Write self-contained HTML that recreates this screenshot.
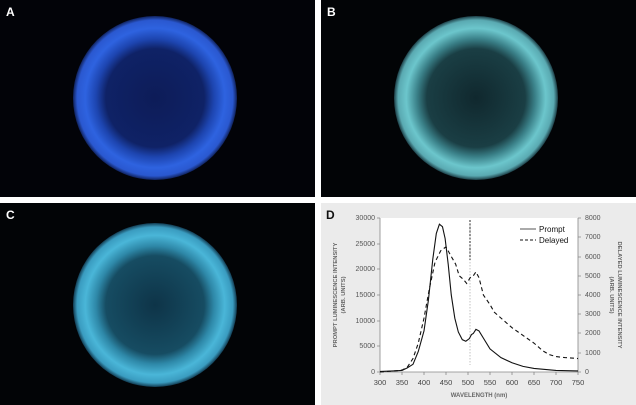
<!DOCTYPE html><html><head><style>body{margin:0;background:#fff}svg{display:block}text{font-family:"Liberation Sans",sans-serif}</style></head><body>
<svg width="636" height="405" viewBox="0 0 636 405">
<defs>
<radialGradient id="gA"><stop offset="0" stop-color="#0d1c58"/><stop offset="0.6" stop-color="#0f2266"/><stop offset="0.72" stop-color="#1d45b0"/><stop offset="0.85" stop-color="#2e63e0"/><stop offset="0.95" stop-color="#2a58d0"/><stop offset="1" stop-color="#10225c"/></radialGradient>
<radialGradient id="gB"><stop offset="0" stop-color="#10282e"/><stop offset="0.6" stop-color="#1a3e44"/><stop offset="0.72" stop-color="#3a8088"/><stop offset="0.85" stop-color="#6cc6cc"/><stop offset="0.95" stop-color="#5aaab2"/><stop offset="1" stop-color="#1c3e46"/></radialGradient>
<radialGradient id="gC"><stop offset="0" stop-color="#0e3448"/><stop offset="0.6" stop-color="#164c62"/><stop offset="0.72" stop-color="#2e88a8"/><stop offset="0.85" stop-color="#4ab6d8"/><stop offset="0.95" stop-color="#3a9cc0"/><stop offset="1" stop-color="#123c52"/></radialGradient>
</defs>
<rect x="0" y="0" width="315" height="197" fill="#020308"/>
<rect x="321" y="0" width="315" height="197" fill="#020406"/>
<rect x="0" y="203" width="315" height="202" fill="#020406"/>
<rect x="321" y="203" width="315" height="202" fill="#ebebeb"/>
<circle cx="155" cy="98" r="82" fill="url(#gA)"/>
<circle cx="476" cy="98" r="82" fill="url(#gB)"/>
<circle cx="155" cy="305" r="82" fill="url(#gC)"/>
<text x="6" y="16" fill="#fff" font-size="12" font-family="Liberation Serif" font-weight="bold">A</text>
<text x="327" y="16" fill="#fff" font-size="12" font-family="Liberation Serif" font-weight="bold">B</text>
<text x="6" y="219" fill="#fff" font-size="12" font-family="Liberation Serif" font-weight="bold">C</text>
<text x="326" y="219" fill="#111" font-size="12" font-family="Liberation Serif" font-weight="bold">D</text>
<rect x="380" y="218" width="198" height="154" fill="#fff"/>
<g stroke="#888" stroke-width="0.8" fill="none">
<path d="M380,218V372H578V218"/>
<path d="M377,218h3M377,244h3M377,269h3M377,295h3M377,321h3M377,346h3M377,372h3"/>
<path d="M578,218h3M578,237h3M578,257h3M578,276h3M578,295h3M578,314h3M578,333h3M578,353h3M578,372h3"/>
<path d="M380,372v3M402,372v3M424,372v3M446,372v3M468,372v3M490,372v3M512,372v3M534,372v3M556,372v3M578,372v3"/>
</g>
<g font-size="7" fill="#555" text-anchor="end">
<text x="375" y="220">30000</text><text x="375" y="246">25000</text><text x="375" y="271">20000</text><text x="375" y="297">15000</text><text x="375" y="323">10000</text><text x="375" y="348">5000</text><text x="375" y="374">0</text>
</g>
<g font-size="7" fill="#555">
<text x="585" y="220">8000</text><text x="585" y="239">7000</text><text x="585" y="259">6000</text><text x="585" y="278">5000</text><text x="585" y="297">4000</text><text x="585" y="316">3000</text><text x="585" y="335">2000</text><text x="585" y="355">1000</text><text x="585" y="374">0</text>
</g>
<g font-size="7.5" fill="#444" text-anchor="middle">
<text x="380" y="385">300</text><text x="402" y="385">350</text><text x="424" y="385">400</text><text x="446" y="385">450</text><text x="468" y="385">500</text><text x="490" y="385">550</text><text x="512" y="385">600</text><text x="534" y="385">650</text><text x="556" y="385">700</text><text x="578" y="385">750</text>
</g>
<text x="479" y="397" font-size="6" fill="#666" font-weight="bold" text-anchor="middle">WAVELENGTH (nm)</text>
<text transform="translate(337,295) rotate(-90)" font-size="5.8" fill="#666" font-weight="bold" text-anchor="middle">PROMPT LUMINESCENCE INTENSITY</text>
<text transform="translate(345,295) rotate(-90)" font-size="5.8" fill="#666" font-weight="bold" text-anchor="middle">(ARB. UNITS)</text>
<text transform="translate(618,295) rotate(90)" font-size="5.8" fill="#666" font-weight="bold" text-anchor="middle">DELAYED LUMINESCENCE INTENSITY</text>
<text transform="translate(610,295) rotate(90)" font-size="5.8" fill="#666" font-weight="bold" text-anchor="middle">(ARB. UNITS)</text>
<line x1="470" y1="220" x2="470" y2="365" stroke="#999" stroke-width="0.6" stroke-dasharray="1.5,1.5"/>
<line x1="470" y1="220" x2="470" y2="260" stroke="#000" stroke-width="0.8" stroke-dasharray="2,1.5"/>
<g transform="translate(380,372) scale(0.44,-0.005133)">
<path vector-effect="non-scaling-stroke" stroke="#111" stroke-width="1.1" fill="none" d="M0,100 L30,200 L50,300 L62,800 L75,1500 L87,4000 L100,8000 L110,14000 L120,22000 L128,27000 L135,28800 L142,28300 L148,26000 L155,21000 L162,15000 L170,10500 L178,7800 L187,6300 L195,6000 L203,6500 L208,7300 L212,7500 L218,8300 L225,8000 L235,6600 L250,4500 L275,2800 L300,1800 L325,1100 L350,700 L400,300 L450,200"/>
</g>
<g transform="translate(380,372) scale(0.44,-0.01925)">
<path vector-effect="non-scaling-stroke" stroke="#111" stroke-width="1.1" stroke-dasharray="4,3" fill="none" d="M0,0 L30,50 L50,100 L62,250 L75,700 L87,1500 L100,2800 L112,4300 L125,5700 L138,6300 L150,6500 L162,6000 L172,5600 L180,5000 L190,4800 L197,4600 L205,4900 L212,5000 L218,5200 L225,4900 L235,4000 L250,3500 L260,3100 L280,2700 L300,2300 L325,1900 L350,1500 L370,1100 L385,900 L400,800 L420,750 L450,700"/>
</g>
<line x1="520" y1="229" x2="536" y2="229" stroke="#555" stroke-width="1"/>
<line x1="520" y1="240" x2="536" y2="240" stroke="#111" stroke-width="1" stroke-dasharray="3,2"/>
<text x="539" y="232" font-size="8" fill="#111">Prompt</text>
<text x="539" y="243" font-size="8" fill="#111">Delayed</text>
</svg>
</body></html>
